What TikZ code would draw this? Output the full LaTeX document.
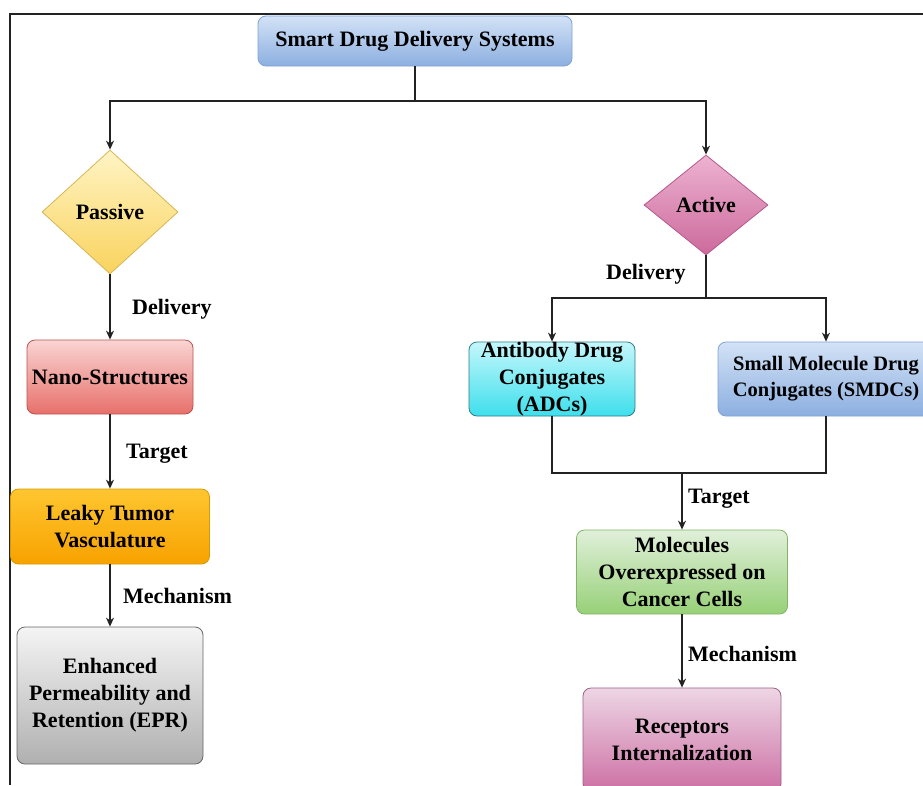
\documentclass[tikz,border=0pt]{standalone}
\usepackage{fontspec}
\setmainfont{Liberation Serif}[BoldFont={Liberation Serif Bold}]
\newfontfamily\diagfont{Liberation Serif Bold}
\usetikzlibrary{shapes.geometric,arrows.meta}
\definecolor{bluT}{HTML}{D3E2F6}
\definecolor{bluB}{HTML}{8CAFE0}
\definecolor{bluD}{HTML}{7EA2D6}
\definecolor{yelT}{HTML}{FFF4C4}
\definecolor{yelB}{HTML}{F9D35E}
\definecolor{yelD}{HTML}{D6B656}
\definecolor{pnkT}{HTML}{EDB2D1}
\definecolor{pnkB}{HTML}{CC6A9C}
\definecolor{pnkD}{HTML}{B4588A}
\definecolor{redT}{HTML}{F9D4D2}
\definecolor{redB}{HTML}{E8706B}
\definecolor{redD}{HTML}{B85450}
\definecolor{orgT}{HTML}{FFC630}
\definecolor{orgB}{HTML}{F7A200}
\definecolor{orgD}{HTML}{D79B00}
\definecolor{gryT}{HTML}{F4F4F4}
\definecolor{gryB}{HTML}{B0B0B0}
\definecolor{gryD}{HTML}{666666}
\definecolor{cynT}{HTML}{C4F7FB}
\definecolor{cynB}{HTML}{3EDFEC}
\definecolor{cynD}{HTML}{2E7D84}
\definecolor{grnT}{HTML}{E0F0DA}
\definecolor{grnB}{HTML}{97D077}
\definecolor{grnD}{HTML}{82B366}
\definecolor{magT}{HTML}{EDD6E4}
\definecolor{magB}{HTML}{CD6FA4}
\definecolor{magD}{HTML}{996185}
\definecolor{lineC}{HTML}{222222}
\begin{document}
\begin{tikzpicture}[x=1pt,y=-1pt,
  txt/.style={font=\diagfont\fontsize{22}{27}\selectfont},
  box/.style={txt,rounded corners=8pt,draw,line width=0.8pt,align=center,inner sep=2pt},
  dia/.style={txt,diamond,draw,line width=0.8pt,inner sep=0pt},
  conn/.style={draw=lineC,line width=1.2pt},
  arr/.style={conn,-{Stealth[length=9pt,width=8pt]}},
  lbl/.style={txt,anchor=west,inner sep=0pt}]
\useasboundingbox (0,0) rectangle (923,785);
\clip (0,0) rectangle (923,785);
% frame
\draw[lineC,line width=1.2pt] (10,785) -- (10,14) -- (930,14);
% nodes
\node[box,top color=bluT,bottom color=bluB,draw=bluD,minimum width=314pt,minimum height=50pt] (sdds) at (415,41) {Smart Drug Delivery Systems};
\node[dia,top color=yelT,bottom color=yelB,draw=yelD,minimum width=136pt,minimum height=124pt] (passive) at (110,212) {Passive};
\node[dia,top color=pnkT,bottom color=pnkB,draw=pnkD,minimum width=124pt,minimum height=100pt] (active) at (706,205) {Active};
\node[box,top color=redT,bottom color=redB,draw=redD,minimum width=166pt,minimum height=74pt] (nano) at (110,377) {Nano-Structures};
\node[box,top color=orgT,bottom color=orgB,draw=orgD,minimum width=199pt,minimum height=75pt] (leaky) at (110,526.5) {Leaky Tumor\\Vasculature};
\node[box,top color=gryT,bottom color=gryB,draw=gryD,minimum width=186pt,minimum height=137pt] (epr) at (110,695.5) {Enhanced\\Permeability and\\Retention (EPR)};
\node[box,top color=cynT,bottom color=cynB,draw=cynD,minimum width=166pt,minimum height=74pt,inner sep=0pt] (adc) at (552,379) {Antibody Drug\\Conjugates\\(ADCs)};
\node[box,top color=bluT,bottom color=bluB,draw=bluD,minimum width=216pt,minimum height=74pt,font=\diagfont\fontsize{20.5}{26}\selectfont] (smdc) at (826,379) {Small Molecule Drug\\Conjugates (SMDCs)};
\node[box,top color=grnT,bottom color=grnB,draw=grnD,minimum width=211pt,minimum height=84pt] (mol) at (682,572) {Molecules\\Overexpressed on\\Cancer Cells};
\node[box,top color=magT,bottom color=magB,draw=magD,minimum width=198pt,minimum height=104pt] (rec) at (682,740) {Receptors\\Internalization};
% junctions
\coordinate (j1) at (415,101);
\coordinate (j2) at (706,298);
\coordinate (j3) at (682,473);
% connectors
\draw[conn] (sdds.south) -- (j1);
\draw[arr] (j1) -| (passive.north);
\draw[arr] (j1) -| (active.north);
\draw[arr] (passive.south) -- (nano.north);
\draw[arr] (nano.south) -- (leaky.north);
\draw[arr] (leaky.south) -- (epr.north);
\draw[conn] (active.south) -- (j2);
\draw[arr] (j2) -| (adc.north);
\draw[arr] (j2) -| (smdc.north);
\draw[conn] (adc.south) |- (j3);
\draw[conn] (smdc.south) |- (j3);
\draw[arr] (j3) -- (mol.north);
\draw[arr] (mol.south) -- (rec.north);
% labels
\node[lbl] (l1) at (132,309) {Delivery};
\node[lbl] (l2) at (126,454) {Target};
\node[lbl] (l3) at (123,596) {Mechanism};
\node[lbl] (l4) at (606,274) {Delivery};
\node[lbl] (l5) at (688,499) {Target};
\node[lbl] (l6) at (688,654) {Mechanism};
\end{tikzpicture}
\end{document}
